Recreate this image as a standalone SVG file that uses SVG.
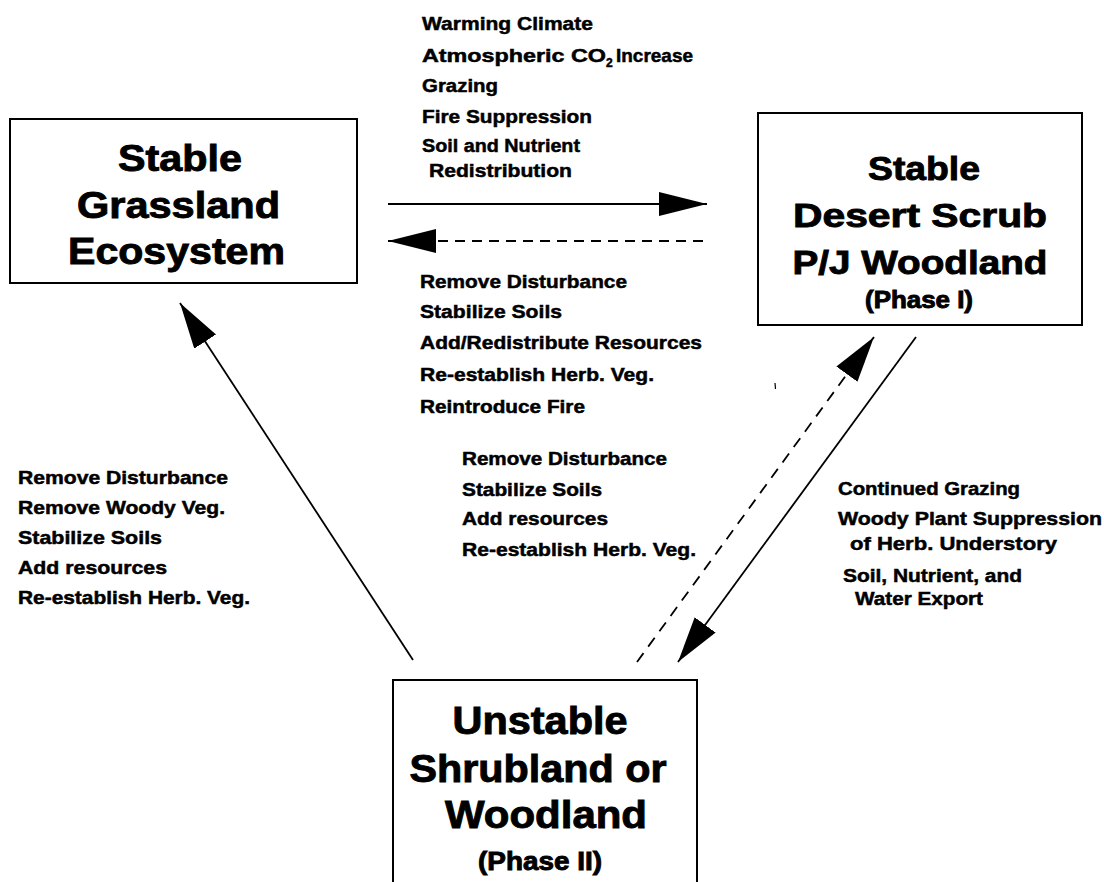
<svg xmlns="http://www.w3.org/2000/svg" width="1104" height="882" viewBox="0 0 1104 882">
<style>
.box{fill:#fff;stroke:#000;stroke-width:2}
.nt{font-family:"Liberation Sans",Arial,sans-serif;font-weight:bold;fill:#000;stroke:#000;stroke-width:0.9;text-anchor:middle}
.lb{font-family:"Liberation Sans",Arial,sans-serif;font-weight:bold;font-size:19px;fill:#000;stroke:#000;stroke-width:0.5}
.sub{font-size:12px}
.ln{stroke:#000;stroke-width:1.8;fill:none}
.dash{stroke-dasharray:10 7}
.ddash{stroke-dasharray:11 8}
</style>
<defs>
<marker id="ah" markerUnits="userSpaceOnUse" markerWidth="50" markerHeight="30" refX="48" refY="12" orient="auto">
<path d="M0,0 L48,12 L0,24 Z" fill="#000"/>
</marker>
<marker id="ahd" markerUnits="userSpaceOnUse" markerWidth="50" markerHeight="30" refX="46" refY="13" orient="auto">
<path d="M0,0 L46,13 L0,26 Z" fill="#000"/>
</marker>
</defs>
<rect width="1104" height="882" fill="#fff"/>

<g id="connectors">
<line class="ln" x1="388" y1="204" x2="707" y2="204" marker-end="url(#ah)"/>
<line class="ln dash" x1="703" y1="241" x2="388" y2="241" marker-end="url(#ah)"/>
<line class="ln" x1="413" y1="660" x2="180" y2="303" marker-end="url(#ahd)"/>
<line class="ln ddash" x1="637" y1="662" x2="874" y2="337" marker-end="url(#ahd)"/>
<line class="ln" x1="916" y1="337" x2="678" y2="662" marker-end="url(#ahd)"/>
</g>

<g id="node-grassland">
<rect class="box" x="10" y="119" width="347" height="164"/>
<text class="nt" font-size="37" x="180" y="171" textLength="124" lengthAdjust="spacingAndGlyphs">Stable</text>
<text class="nt" font-size="37" x="178.5" y="218" textLength="203" lengthAdjust="spacingAndGlyphs">Grassland</text>
<text class="nt" font-size="37" x="176.5" y="264" textLength="217" lengthAdjust="spacingAndGlyphs">Ecosystem</text>
</g>

<g id="node-desert-scrub">
<rect class="box" x="758" y="113" width="324" height="212"/>
<text class="nt" font-size="34" x="924" y="180" textLength="112" lengthAdjust="spacingAndGlyphs">Stable</text>
<text class="nt" font-size="34" x="920" y="227" textLength="254" lengthAdjust="spacingAndGlyphs">Desert Scrub</text>
<text class="nt" font-size="34" x="920" y="274" textLength="255" lengthAdjust="spacingAndGlyphs">P/J Woodland</text>
<text class="nt" font-size="23" x="919" y="308" textLength="108" lengthAdjust="spacingAndGlyphs">(Phase I)</text>
</g>

<g id="node-shrubland">
<rect class="box" x="393" y="680" width="304" height="230"/>
<text class="nt" font-size="38" x="540" y="734" textLength="175" lengthAdjust="spacingAndGlyphs">Unstable</text>
<text class="nt" font-size="38" x="538" y="782" textLength="257" lengthAdjust="spacingAndGlyphs">Shrubland or</text>
<text class="nt" font-size="38" x="546" y="828" textLength="202" lengthAdjust="spacingAndGlyphs">Woodland</text>
<text class="nt" font-size="25" x="540" y="870" textLength="124" lengthAdjust="spacingAndGlyphs">(Phase II)</text>
</g>

<g id="label-top">
<text class="lb" x="422" y="30" textLength="171" lengthAdjust="spacingAndGlyphs">Warming Climate</text>
<text class="lb" x="422" y="62" textLength="184" lengthAdjust="spacingAndGlyphs">Atmospheric CO</text>
<text class="lb sub" x="606" y="67">2</text>
<text class="lb" x="616" y="62" textLength="77" lengthAdjust="spacingAndGlyphs">Increase</text>
<text class="lb" x="422" y="92" textLength="76" lengthAdjust="spacingAndGlyphs">Grazing</text>
<text class="lb" x="422" y="123" textLength="170" lengthAdjust="spacingAndGlyphs">Fire Suppression</text>
<text class="lb" x="422" y="152" textLength="158" lengthAdjust="spacingAndGlyphs">Soil and Nutrient</text>
<text class="lb" x="429" y="177" textLength="143" lengthAdjust="spacingAndGlyphs">Redistribution</text>
</g>

<g id="label-restore-grassland">
<text class="lb" x="420" y="288" textLength="207" lengthAdjust="spacingAndGlyphs">Remove Disturbance</text>
<text class="lb" x="420" y="318" textLength="142" lengthAdjust="spacingAndGlyphs">Stabilize Soils</text>
<text class="lb" x="420" y="349" textLength="282" lengthAdjust="spacingAndGlyphs">Add/Redistribute Resources</text>
<text class="lb" x="420" y="381" textLength="234" lengthAdjust="spacingAndGlyphs">Re-establish Herb. Veg.</text>
<text class="lb" x="420" y="413" textLength="165" lengthAdjust="spacingAndGlyphs">Reintroduce Fire</text>
</g>

<g id="label-restore-phase1">
<text class="lb" x="462" y="465" textLength="205" lengthAdjust="spacingAndGlyphs">Remove Disturbance</text>
<text class="lb" x="462" y="496" textLength="140" lengthAdjust="spacingAndGlyphs">Stabilize Soils</text>
<text class="lb" x="462" y="525" textLength="146" lengthAdjust="spacingAndGlyphs">Add resources</text>
<text class="lb" x="462" y="556" textLength="234" lengthAdjust="spacingAndGlyphs">Re-establish Herb. Veg.</text>
</g>

<g id="label-left">
<text class="lb" x="18" y="484" textLength="210" lengthAdjust="spacingAndGlyphs">Remove Disturbance</text>
<text class="lb" x="18" y="514" textLength="207" lengthAdjust="spacingAndGlyphs">Remove Woody Veg.</text>
<text class="lb" x="18" y="544" textLength="144" lengthAdjust="spacingAndGlyphs">Stabilize Soils</text>
<text class="lb" x="18" y="574" textLength="149" lengthAdjust="spacingAndGlyphs">Add resources</text>
<text class="lb" x="18" y="604" textLength="232" lengthAdjust="spacingAndGlyphs">Re-establish Herb. Veg.</text>
</g>

<g id="label-right">
<text class="lb" x="838" y="495" textLength="182" lengthAdjust="spacingAndGlyphs">Continued Grazing</text>
<text class="lb" x="838" y="525" textLength="264" lengthAdjust="spacingAndGlyphs">Woody Plant Suppression</text>
<text class="lb" x="850" y="550" textLength="207" lengthAdjust="spacingAndGlyphs">of Herb. Understory</text>
<text class="lb" x="843" y="582" textLength="179" lengthAdjust="spacingAndGlyphs">Soil, Nutrient, and</text>
<text class="lb" x="855" y="605" textLength="128" lengthAdjust="spacingAndGlyphs">Water Export</text>
</g>

<line x1="775" y1="383" x2="775.5" y2="389" stroke="#000" stroke-width="1.2"/>
</svg>
